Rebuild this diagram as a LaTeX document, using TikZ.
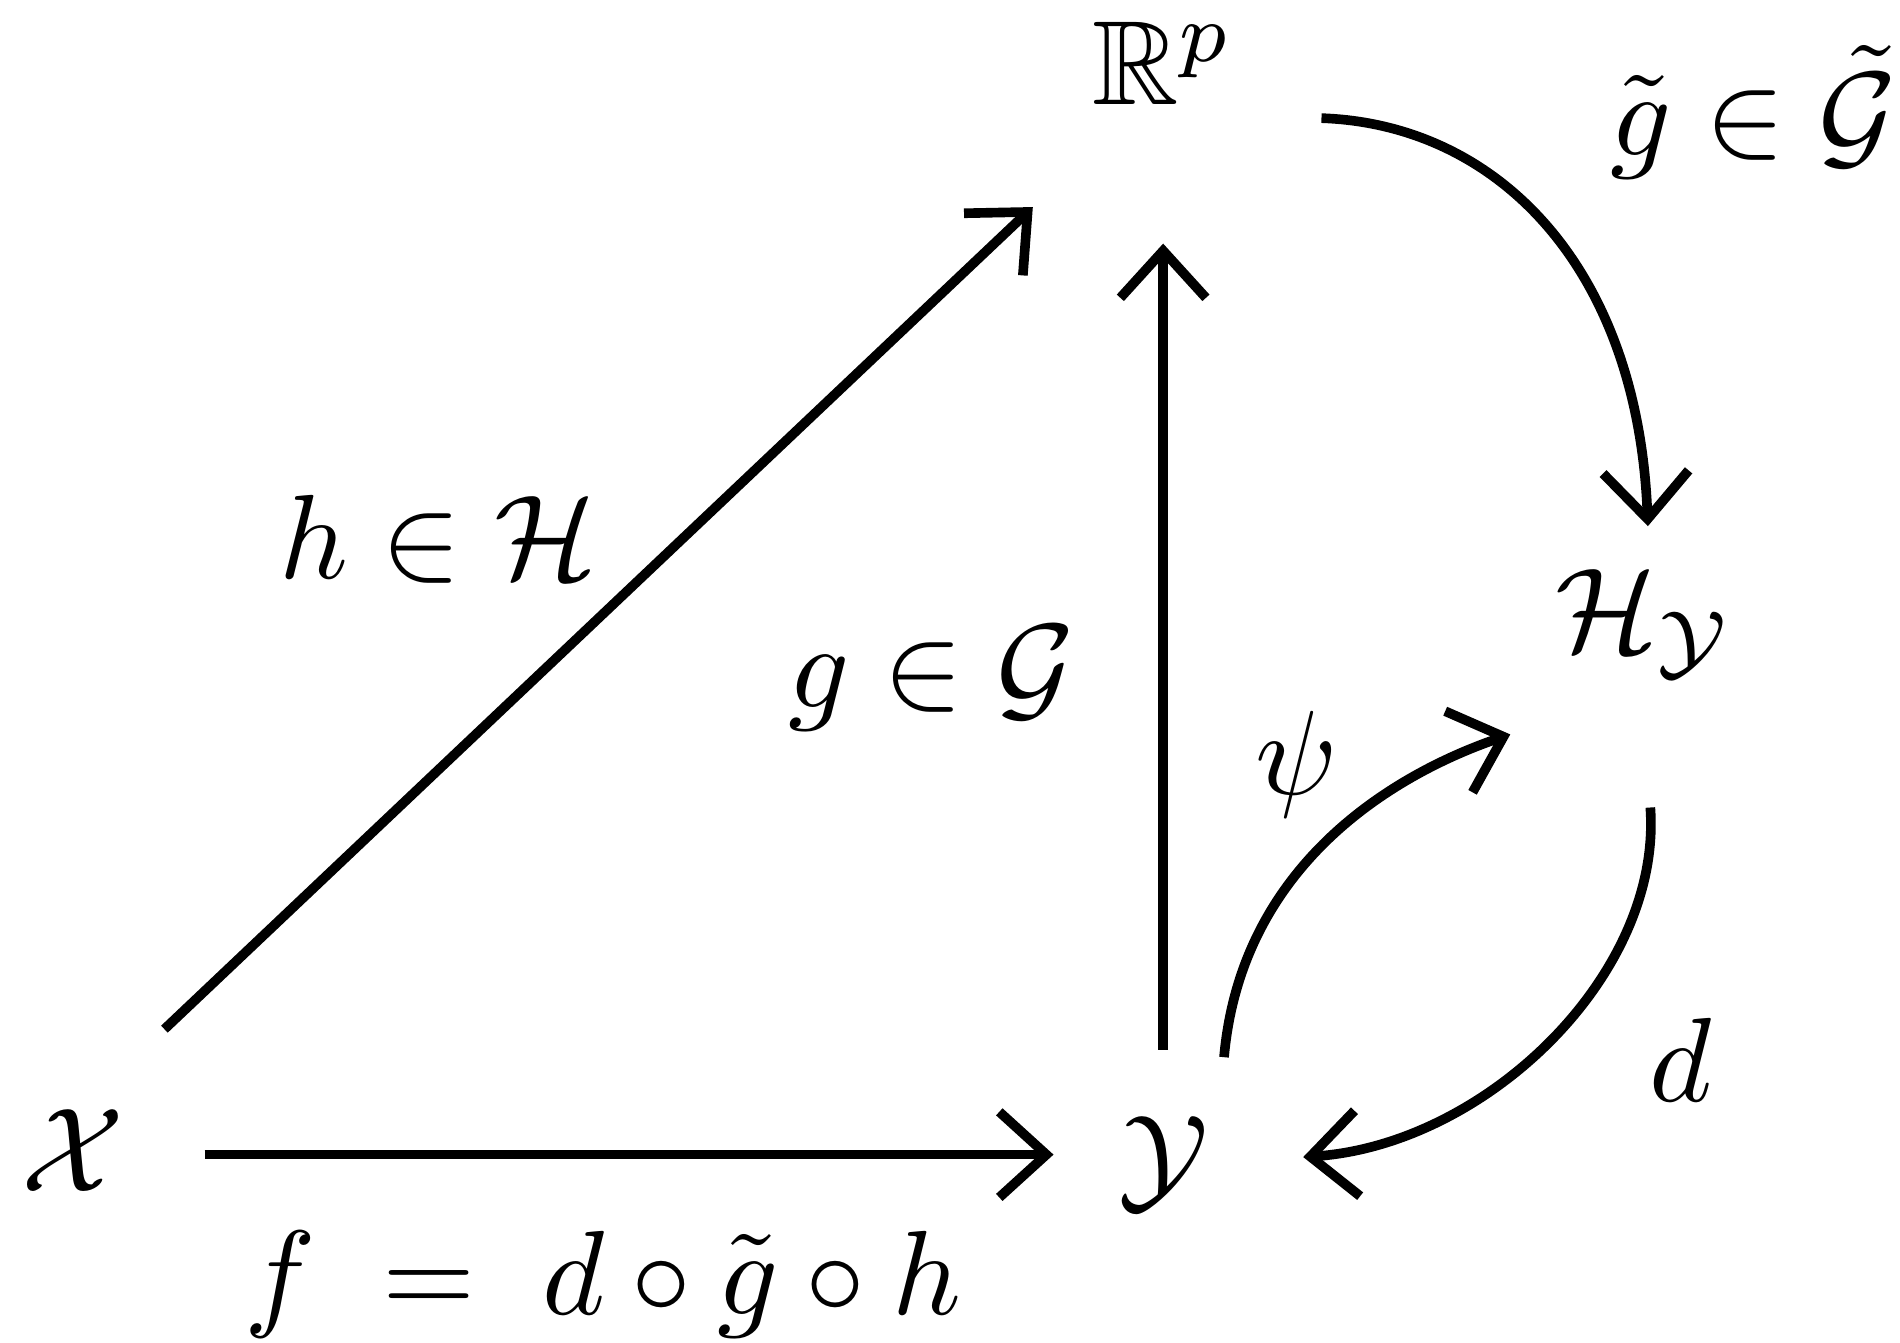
\documentclass[tikz,border=0pt]{standalone}
\usepackage{amssymb}
\usepackage{graphicx}
\usetikzlibrary{arrows.meta}
\newcommand{\bigmath}[1]{\scalebox{5.6}{$#1$}}
\begin{document}
\begin{tikzpicture}[x=0.02cm,y=-0.02cm,
  lbl/.style={inner sep=0pt},
  arr/.style={line width=4.5pt,-{Straight Barb[length=22pt,width=40pt,line width=4.5pt]}}]
\useasboundingbox (0,0) rectangle (1560,1102);
\node[lbl] (X) at (60,945) {\bigmath{\mathcal{X}}};
\node[lbl] (Y) at (955,955) {\bigmath{\mathcal{Y}}};
\node[lbl] (R) at (955,52) {\bigmath{\mathbb{R}^p}};
\node[lbl] (H) at (1350,512) {\bigmath{\mathcal{H}_{\mathcal{Y}}}};
\node[lbl] (lh) at (360,443) {\bigmath{h \in \mathcal{H}}};
\node[lbl] (lg) at (765,557) {\bigmath{g \in \mathcal{G}}};
\node[lbl] (lgt) at (1440,92) {\bigmath{\tilde g \in \tilde{\mathcal{G}}}};
\node[lbl] (lpsi) at (1065,628) {\bigmath{\psi}};
\node[lbl] (ld) at (1380,870) {\bigmath{d}};
\node[lbl] (lf) at (495,1055) {\bigmath{f \;=\; d \circ \tilde g \circ h}};
\coordinate (a1) at (135,845); \coordinate (a2) at (848,170);
\coordinate (b1) at (168,948); \coordinate (b2) at (865,948);
\coordinate (c1) at (955,862); \coordinate (c2) at (955,200);
\coordinate (d1) at (1085,97); \coordinate (d2) at (1353,432);
\coordinate (e1) at (1005,868); \coordinate (e2) at (1240,603);
\coordinate (f1) at (1355,663); \coordinate (f2) at (1070,950);
\draw[arr] (a1) -- (a2);
\draw[arr] (b1) -- (b2);
\draw[arr] (c1) -- (c2);
\draw[arr] (d1) .. controls (1230,102) and (1345,220) .. (d2);
\draw[arr] (e1) .. controls (1020,700) and (1160,630) .. (e2);
\draw[arr] (f1) .. controls (1365,800) and (1220,940) .. (f2);
\end{tikzpicture}
\end{document}
